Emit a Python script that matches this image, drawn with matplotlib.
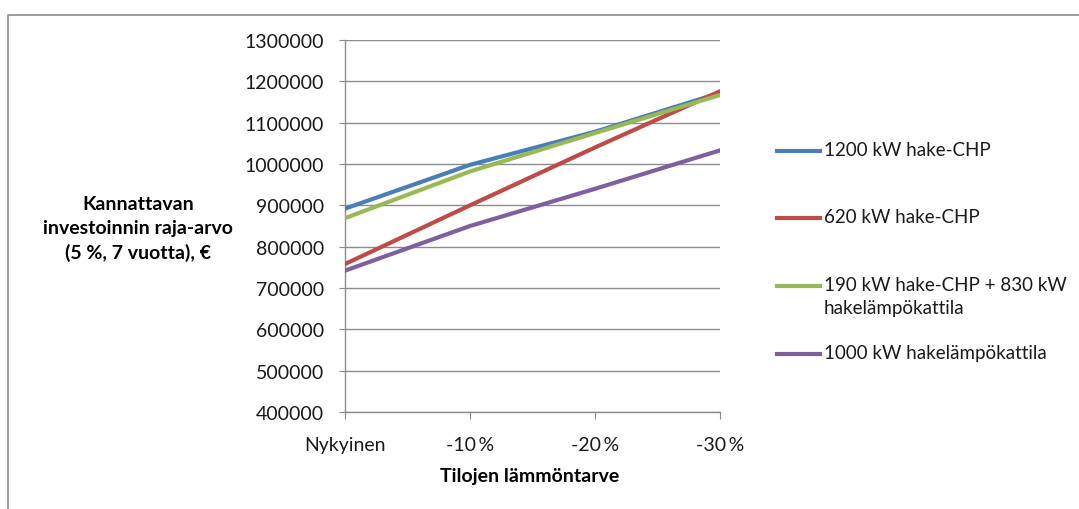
import numpy as np
import matplotlib.pyplot as plt
from matplotlib.lines import Line2D

plt.rcParams['font.family'] = ['Lato', 'DejaVu Sans']

categories = ['Nykyinen', '-10\u2009%', '-20\u2009%', '-30\u2009%']
series_names = ['1200 kW hake-CHP',
                '620 kW hake-CHP',
                '190 kW hake-CHP + 830 kW\nhakelämpökattila',
                '1000 kW hakelämpökattila']
chp_1200 = [892000, 998000, 1078000, 1172000]
chp_620 = [758000, 900000, 1040000, 1176000]
chp_190_boiler = [869000, 982000, 1075000, 1167000]
boiler_1000 = [742000, 850000, 940000, 1033000]
colors = ['#4A7EBB', '#BE4B48', '#98B954', '#7D60A0']

W, H = 1079, 510
fig = plt.figure(figsize=(W / 100, H / 100), dpi=100)
ax = fig.add_axes([345 / W, 1 - 413 / H, (720 - 345) / W, (413 - 41) / H])

x = np.arange(len(categories))
all_series = [chp_1200, chp_620, chp_190_boiler, boiler_1000]
for vals, c in zip(all_series, colors):
    ax.plot(x, vals, color=c, lw=3.0, solid_capstyle='round', zorder=3)

ax.set_xlim(0, 3)
ax.set_ylim(400000, 1300000)
ax.set_yticks(np.arange(400000, 1300001, 100000))
ax.set_yticklabels([str(v) for v in range(400000, 1300001, 100000)])
ax.set_xticks(x)
ax.set_xticklabels(categories)
ax.grid(axis='y', color='#8c8c8c', lw=1)
ax.set_axisbelow(True)
for s in ['top', 'right']:
    ax.spines[s].set_visible(False)
for s in ['left', 'bottom']:
    ax.spines[s].set_color('#8c8c8c')
    ax.spines[s].set_linewidth(1)
ax.tick_params(axis='y', length=4, color='#8c8c8c', labelsize=14, pad=11, labelcolor='#1a1a1a')
ax.tick_params(axis='x', length=5, color='#8c8c8c', labelsize=14, pad=12, labelcolor='#1a1a1a')

# outer chart frame (cut off at right and bottom)
fig.add_artist(Line2D([8 / W, 8 / W, 1], [0, 1 - 16 / H, 1 - 16 / H],
                      transform=fig.transFigure, color='#8c8c8c', lw=1.2))

# axis titles
fig.text(138 / W, 1 - 229 / H, 'Kannattavan\ninvestoinnin raja-arvo\n(5 %, 7 vuotta), €',
         ha='center', va='center', fontsize=14, fontweight='bold', linespacing=1.45)
fig.text(530 / W, 1 - 477 / H, 'Tilojen lämmöntarve', ha='center', va='center',
         fontsize=14, fontweight='bold')

# legend
legend_y = [152, 219, 287, 355]
for name, c, yy in zip(series_names, colors, legend_y):
    fig.add_artist(Line2D([777 / W, 820 / W], [1 - yy / H, 1 - yy / H],
                          transform=fig.transFigure, color=c, lw=3.0))
    fig.text(824 / W, 1 - (yy - 10) / H, name, ha='left', va='top',
             fontsize=13.5, linespacing=1.4, color='#1a1a1a')

fig.savefig('out.png', dpi=100)
